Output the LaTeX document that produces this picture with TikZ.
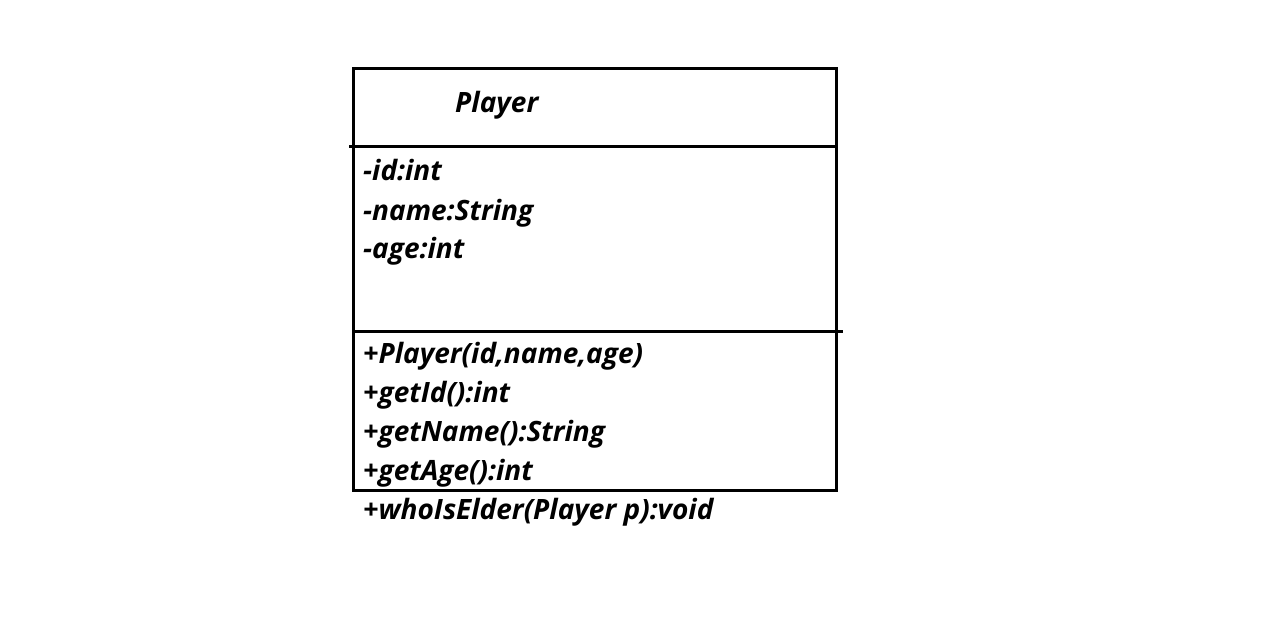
\documentclass[tikz,border=0pt]{standalone}
\usepackage{fontspec}
\setmainfont{Open Sans}
\begin{document}
\begin{tikzpicture}[x=1pt,y=-1pt,
  umltext/.style={anchor=base west,inner sep=0pt,font=\fontsize{28}{32}\selectfont\bfseries\itshape},
  boxline/.style={line width=3pt,black}]
\useasboundingbox[fill=white] (0,0) rectangle (1280,632);
\coordinate (tl) at (353,68);
\coordinate (br) at (836,490);
\draw[boxline] (tl) rectangle (br);
\coordinate (d1a) at (349,146);
\coordinate (d1b) at (836,146);
\coordinate (d2a) at (353,331);
\coordinate (d2b) at (843,331);
\draw[boxline] (d1a) -- (d1b);
\draw[boxline] (d2a) -- (d2b);
\node[umltext] (title) at (455,112) {Player};
\node[umltext] (a1) at (363,180) {-id:int};
\node[umltext] (a2) at (363,220) {-name:String};
\node[umltext] (a3) at (363,258) {-age:int};
\node[umltext] (m1) at (363,363) {+Player(id,name,age)};
\node[umltext] (m2) at (363,402) {+getId():int};
\node[umltext] (m3) at (363,441) {+getName():String};
\node[umltext] (m4) at (363,480) {+getAge():int};
\node[umltext] (m5) at (363,519) {+whoIsElder(Player p):void};
\end{tikzpicture}
\end{document}
